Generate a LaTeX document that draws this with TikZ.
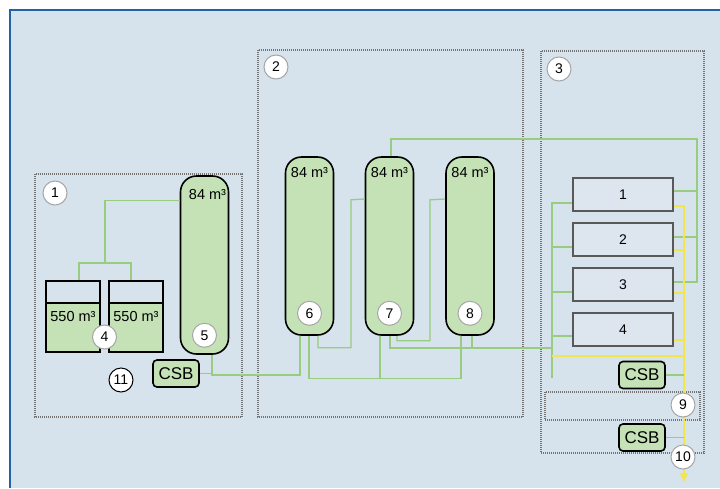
\documentclass[tikz,border=0pt]{standalone}
\usepackage{fontspec}
\setmainfont{Liberation Sans}
\usetikzlibrary{positioning,arrows.meta}
\definecolor{bgblue}{HTML}{D6E2EC}
\definecolor{frameblue}{HTML}{2462A6}
\definecolor{tankgreen}{HTML}{C4E2B6}
\definecolor{pipegreen}{HTML}{98CC7E}
\definecolor{pipeyellow}{HTML}{F2E64C}
\definecolor{unitfill}{HTML}{DDE6EF}
\tikzset{
  tank/.style={draw=black, line width=1.6pt, fill=tankgreen, rounded corners=16pt, minimum width=48pt, minimum height=178pt, inner sep=0pt},
  basin/.style={draw=black, line width=1.6pt, fill=bgblue, minimum width=54pt, minimum height=71pt, inner sep=0pt, font=\fontsize{14.5}{14.5}\selectfont,
    path picture={\fill[tankgreen] (path picture bounding box.south west) rectangle ([yshift=49pt]path picture bounding box.south east);
      \draw[black, line width=1.4pt] ([yshift=49pt]path picture bounding box.south west) -- ([yshift=49pt]path picture bounding box.south east);}},
  vol/.style={inner sep=0pt, font=\fontsize{14.5}{14.5}\selectfont},
  csb/.style={draw=black, line width=1.6pt, fill=tankgreen, rounded corners=4pt, minimum width=46pt, minimum height=27pt, inner sep=0pt, font=\fontsize{17}{17}\selectfont},
  unit/.style={draw=black!65, line width=1.4pt, fill=unitfill, minimum width=100pt, minimum height=33pt, inner sep=0pt, font=\fontsize{14}{14}\selectfont},
  num/.style={circle, draw=black!35, line width=1pt, fill=white, minimum size=24pt, inner sep=0pt, font=\fontsize{14}{14}\selectfont},
  zone/.style={draw=black!55, line width=1.3pt, dash pattern=on 1pt off 1pt},
  pipe/.style={draw=pipegreen, line width=1.3pt},
  ypipe/.style={draw=pipeyellow, line width=1.8pt}
}
\begin{document}
\begin{tikzpicture}[x=1pt,y=-1pt]
  \useasboundingbox (0,0) rectangle (720,488);
  \fill[white] (0,0) rectangle (720,488);
  \fill[bgblue] (10,10) rectangle (720,488);
  \draw[frameblue, line width=1.6pt] (10,488) -- (10,10) -- (720,10);
  \draw[zone] (35,174) rectangle (242,417);
  \draw[zone] (258,50) rectangle (523,417);
  \draw[zone] (541,51) rectangle (704,453);
  \draw[zone] (545,392) rectangle (700,420);
  \node[tank] (t5) at (204.5,265) {};
  \node[tank] (t6) at (309.5,246) {};
  \node[tank] (t7) at (389.5,246) {};
  \node[tank] (t8) at (470,246) {};
  \node[vol, below=14pt of t5.north, xshift=3pt] (v5) {84 m³};
  \node[vol, below=11pt of t6.north] (v6) {84 m³};
  \node[vol, below=11pt of t7.north] (v7) {84 m³};
  \node[vol, below=11pt of t8.north] (v8) {84 m³};
  \node[basin] (b4l) at (73,316.5) {550 m³};
  \node[basin] (b4r) at (136,316.5) {550 m³};
  \node[csb] (c11) at (176,373.5) {CSB};
  \node[unit] (f1) at (623,194.5) {1};
  \node[unit] (f2) at (623,239.5) {2};
  \node[unit] (f3) at (623,284.5) {3};
  \node[unit] (f4) at (623,329.5) {4};
  \node[csb] (c3a) at (642,375) {CSB};
  \node[csb] (c3b) at (642,437.5) {CSB};
  \coordinate (hub) at (105,263);
  \coordinate (jA) at (212,375);
  \coordinate (colC) at (552,348);
  \coordinate (rtop) at (697,139);
  \coordinate (cbot) at (552,378);
  \coordinate (ybus) at (552,356);
  \coordinate (yend) at (684,482);
  \draw[pipe] ([yshift=-25pt]t5.north west) -| (hub);
  \draw[pipe] ([xshift=6pt]b4l.north) |- (hub) -| ([xshift=-5pt]b4r.north);
  \draw[pipe] (c11.east) -| ([xshift=7.5pt]t5.south);
  \draw[pipe] ([xshift=7.5pt]t5.south) -- (jA) -| ([xshift=-9.5pt]t6.south);
  \draw[pipe] ([xshift=-0.5pt]t6.south) -- ++(0,42.5) -| ([xshift=-9pt]t8.south);
  \draw[pipe] ([xshift=-9.5pt]t7.south) -- ++(0,42.5);
  \draw[pipe] ([xshift=8.5pt]t6.south) -- ++(0,12) -| ++(33,-148) -- ([yshift=47pt]t7.west);
  \draw[pipe] ([xshift=7.5pt]t7.south) -- ++(0,5) -| ++(33,-141) -- ([yshift=47pt]t8.west);
  \draw[pipe] ([xshift=0.5pt]t7.south) |- (colC);
  \draw[pipe] ([xshift=2pt]t8.south) -- ++(0,13);
  \draw[pipe] ([xshift=1.5pt]t7.north) |- (rtop) |- ([yshift=2.5pt]f3.east);
  \draw[pipe] ([yshift=3.5pt]f1.east) -- ++(24,0);
  \draw[pipe] ([yshift=2.5pt]f2.east) -- ++(24,0);
  \draw[pipe] ([yshift=-8.5pt]f1.west) -| (cbot);
  \draw[pipe] ([yshift=-7.5pt]f2.west) -- ++(-21,0);
  \draw[pipe] ([yshift=-7.5pt]f3.west) -- ++(-21,0);
  \draw[pipe] ([yshift=-6.5pt]f4.west) -- ++(-21,0);
  \draw[ypipe, -{Triangle[length=9pt, width=8pt]}] ([yshift=-11.5pt]f1.east) -| (yend);
  \draw[ypipe] ([yshift=-10.5pt]f2.east) -- ++(11,0);
  \draw[ypipe] ([yshift=-8.5pt]f3.east) -- ++(11,0);
  \draw[ypipe] ([yshift=-10.5pt]f4.east) -- ++(11,0);
  \draw[ypipe] (ybus) -- ++(132,0);
  \draw[pipe] (c3a.east) -- ++(18,0);
  \draw[pipe] (c3b.east) -- ++(18,0);
  \node[num] (n1) at (55,193) {1};
  \node[num] (n2) at (276,67) {2};
  \node[num] (n3) at (559,69) {3};
  \node[num] (n4) at (104.5,337) {4};
  \node[num, above=7pt of t5.south] (n5) {5};
  \node[num, above=10pt of t6.south] (n6) {6};
  \node[num, above=10pt of t7.south] (n7) {7};
  \node[num, above=10pt of t8.south] (n8) {8};
  \node[num] (n9) at (683,405) {9};
  \node[num] (n10) at (683,457) {10};
  \node[num, draw=black] (n11) at (121,380) {11};
\end{tikzpicture}
\end{document}
